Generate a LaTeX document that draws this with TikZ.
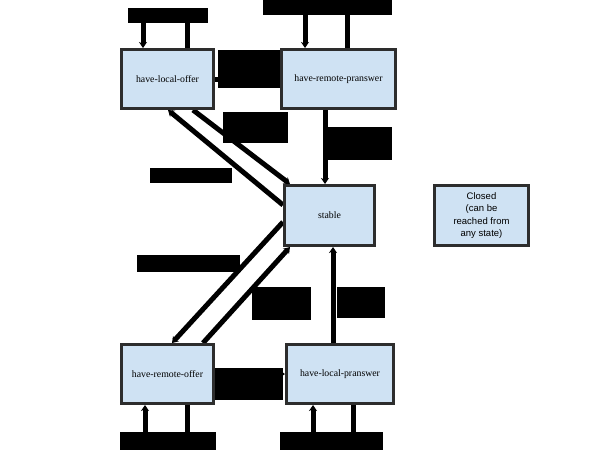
\documentclass[tikz,border=0pt]{standalone}
\usepackage{fontspec}
\setmainfont{Liberation Serif}
\newfontfamily\sansf{Liberation Sans}
\usetikzlibrary{arrows.meta,calc,backgrounds}
\definecolor{stateblue}{RGB}{207,226,243}
\definecolor{stateborder}{RGB}{45,45,45}
\tikzset{
  statebox/.style={draw=stateborder, line width=3pt, fill=stateblue, inner sep=0pt,
    minimum height=59pt, font=\fontsize{9.8}{11}\selectfont},
  lbl/.style={fill=black, text=black, inner sep=0pt, align=center,
    font=\fontsize{7}{8}\selectfont},
  edge/.style={line width=5pt, black, -{Stealth[length=6pt,width=8pt]}},
  plain/.style={line width=5pt, black},
}
\begin{document}
\begin{tikzpicture}[x=1pt,y=-1pt]
\useasboundingbox (0,0) rectangle (600,450);
% states
\node[statebox, minimum width=92pt] (hlo) at (167.5,79) {have-local-offer};
\node[statebox, minimum width=114pt] (hrp) at (338.5,79) {have-remote-pranswer};
\node[statebox, minimum width=90pt, minimum height=60pt] (stable) at (329.5,215.5) {stable};
\node[statebox, minimum width=94pt, minimum height=60pt, font=\sansf\fontsize{9.5}{12.3}\selectfont, align=center] (closed) at (481.5,215.5) {Closed\\(can be\\reached from\\any state)};
\node[statebox, minimum width=92pt] (hro) at (167.5,374) {have-remote-offer};
\node[statebox, minimum width=107pt] (hlp) at (340,374) {have-local-pranswer};
% labels
\node[lbl, minimum width=80pt, minimum height=15pt] (l1) at (168,15.5) {setLocal(offer)};
\node[lbl, minimum width=129pt, minimum height=15pt] (l2) at (327.5,7.5) {setRemote(pranswer)};
\node[lbl, minimum width=62pt, minimum height=38pt] (l3) at (249,69) {setRemote\\(pranswer)};
\node[lbl, minimum width=65pt, minimum height=31pt] (l4) at (255.5,127.5) {setRemote\\(answer)};
\node[lbl, minimum width=82pt, minimum height=15pt] (l5) at (191,175.5) {setLocal(offer)};
\node[lbl, minimum width=65pt, minimum height=33pt] (l6) at (359.5,143.5) {setRemote\\(answer)};
\node[lbl, minimum width=103pt, minimum height=17pt] (l7) at (188.5,263.5) {setRemote(offer)};
\node[lbl, minimum width=59pt, minimum height=33pt] (l8) at (281.5,303.5) {setLocal\\(answer)};
\node[lbl, minimum width=48pt, minimum height=31pt] (l9) at (361,302.5) {setLocal\\(answer)};
\node[lbl, minimum width=68pt, minimum height=32pt] (l10) at (249,384) {setLocal\\(pranswer)};
\node[lbl, minimum width=96pt, minimum height=18pt] (l11) at (168,441) {setRemote(offer)};
\node[lbl, minimum width=103pt, minimum height=18pt] (l12) at (331.5,441) {setLocal(pranswer)};
\coordinate (v1) at (325,0);
\coordinate (v2) at (333,0);
% connectors, behind boxes and labels
\begin{pgfonlayer}{background}
\draw[plain] ($(hlo.north)+(19.5,0)$) -- (l1.south -| {$(hlo.north)+(19.5,0)$});
\draw[edge] (l1.south -| {$(hlo.north)+(-24.5,0)$}) -- ($(hlo.north)+(-24.5,0)$);
\draw[plain] ($(hrp.north)+(8.5,0)$) -- (l2.south -| {$(hrp.north)+(8.5,0)$});
\draw[edge] (l2.south -| {$(hrp.north)+(-33.5,0)$}) -- ($(hrp.north)+(-33.5,0)$);
\draw[edge] (hlo) -- (hrp);
\draw[edge] (hrp.south -| v1) -- (stable.north -| v1);
\draw[edge] (hlp.north -| v2) -- (stable.south -| v2);
\draw[edge] ($(stable.west)+(0,-10.5)$) -- ($(hlo.south)+(0.5,0)$);
\draw[edge] ($(hlo.south)+(25.5,0)$) -- ($(stable.north west)+(7,0)$);
\draw[edge] ($(stable.west)+(0,6.5)$) -- ($(hro.north)+(4.5,0)$);
\draw[edge] ($(hro.north)+(35.5,0)$) -- ($(stable.south west)+(7,0)$);
\draw[edge] (hro) -- (hlp);
\draw[plain] ($(hro.south)+(19.5,0)$) -- (l11.north -| {$(hro.south)+(19.5,0)$});
\draw[edge] (l11.north -| {$(hro.south)+(-22.5,0)$}) -- ($(hro.south)+(-22.5,0)$);
\draw[plain] ($(hlp.south)+(13,0)$) -- (l12.north -| {$(hlp.south)+(13,0)$});
\draw[edge] (l12.north -| {$(hlp.south)+(-27,0)$}) -- ($(hlp.south)+(-27,0)$);
\end{pgfonlayer}
\end{tikzpicture}
\end{document}
